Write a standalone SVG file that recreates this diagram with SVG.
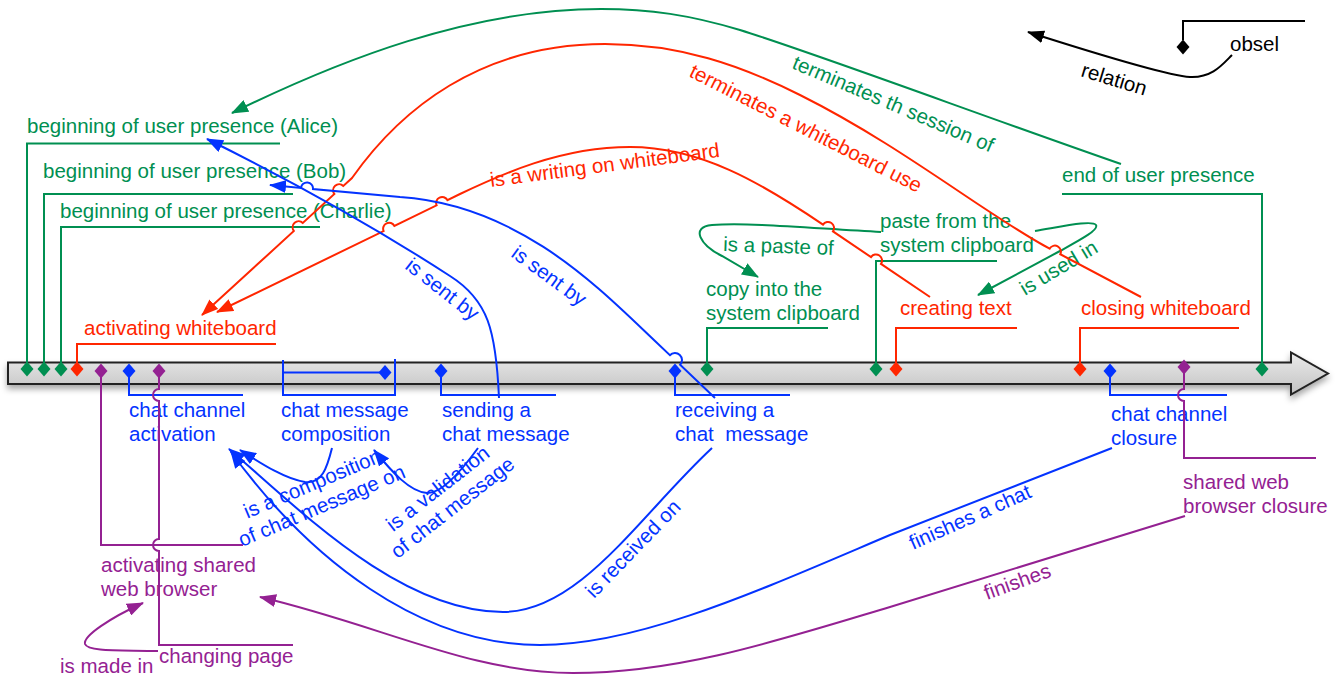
<svg xmlns="http://www.w3.org/2000/svg" xmlns:xlink="http://www.w3.org/1999/xlink" width="1340" height="679" viewBox="0 0 1340 679">
<style>
text{font-family:"Liberation Sans",Arial,Helvetica,sans-serif;font-size:20.5px}
.g,.r,.b,.p,.k{fill:none;stroke-width:2}
.g{stroke:#008F51}.r{stroke:#FF2600}.b{stroke:#0433FF}.p{stroke:#942192}.k{stroke:#000}
.fg{fill:#008F51}.fr{fill:#FF2600}.fb{fill:#0433FF}.fp{fill:#942192}.fk{fill:#000}
</style>
<defs>
<linearGradient id="tg" x1="0" y1="0" x2="0" y2="1"><stop offset="0" stop-color="#ebebeb"/><stop offset="1" stop-color="#c2c2c2"/></linearGradient>
<filter id="sh" x="-5%" y="-50%" width="110%" height="200%"><feDropShadow dx="0" dy="4" stdDeviation="3" flood-color="#000" flood-opacity="0.35"/></filter>
<path id="d" d="M0,-7.5L6.5,0L0,7.5L-6.5,0Z"/>
<marker id="ag" viewBox="0 0 17 13" markerWidth="17" markerHeight="13" refX="16" refY="6.5" orient="auto" markerUnits="userSpaceOnUse"><path d="M0,0L17,6.5L0,13Z" fill="#008F51"/></marker>
<marker id="ar" viewBox="0 0 17 13" markerWidth="17" markerHeight="13" refX="16" refY="6.5" orient="auto" markerUnits="userSpaceOnUse"><path d="M0,0L17,6.5L0,13Z" fill="#FF2600"/></marker>
<marker id="ab" viewBox="0 0 17 13" markerWidth="17" markerHeight="13" refX="16" refY="6.5" orient="auto" markerUnits="userSpaceOnUse"><path d="M0,0L17,6.5L0,13Z" fill="#0433FF"/></marker>
<marker id="ap" viewBox="0 0 17 13" markerWidth="17" markerHeight="13" refX="16" refY="6.5" orient="auto" markerUnits="userSpaceOnUse"><path d="M0,0L17,6.5L0,13Z" fill="#942192"/></marker>
<marker id="ak" viewBox="0 0 17 13" markerWidth="17" markerHeight="13" refX="16" refY="6.5" orient="auto" markerUnits="userSpaceOnUse"><path d="M0,0L17,6.5L0,13Z" fill="#000"/></marker>
</defs>
<rect width="1340" height="679" fill="#fff"/>

<g id="timeline">
<path d="M8,362.5H1291V352.5L1328,373.5L1291,394.5V384H8Z" fill="url(#tg)" stroke="#222" stroke-width="2" filter="url(#sh)"/>
</g>

<g id="n-alice"><path class="g" d="M280,143.5H27V369"/><use href="#d" x="27" y="369" class="fg"/><text class="fg" x="27" y="133">beginning of user presence (Alice)</text></g>
<g id="n-bob"><path class="g" d="M293,194H44V369"/><use href="#d" x="44" y="369" class="fg"/><text class="fg" x="43" y="178">beginning of user presence (Bob)</text></g>
<g id="n-charlie"><path class="g" d="M320,227H61V369"/><use href="#d" x="61" y="369" class="fg"/><text class="fg" x="60" y="218">beginning of user presence (Charlie)</text></g>
<g id="n-activating-whiteboard"><path class="r" d="M276,344H77V369"/><use href="#d" x="77" y="369" class="fr"/><text class="fr" x="84" y="335">activating whiteboard</text></g>
<g id="n-copy"><path class="g" d="M828,328H707V369"/><use href="#d" x="707" y="369" class="fg"/><text class="fg" x="706" y="296">copy into the</text><text class="fg" x="706" y="320">system clipboard</text></g>
<g id="n-paste"><path class="g" d="M997,261H876V369"/><use href="#d" x="876" y="369" class="fg"/><text class="fg" x="880" y="228">paste from the</text><text class="fg" x="880" y="252">system clipboard</text></g>
<g id="n-creating-text"><path class="r" d="M1017,328H896V369"/><use href="#d" x="896" y="369" class="fr"/><text class="fr" x="900" y="315">creating text</text></g>
<g id="n-closing-whiteboard"><path class="r" d="M1239,328H1080V369"/><use href="#d" x="1080" y="369" class="fr"/><text class="fr" x="1081" y="315">closing whiteboard</text></g>
<g id="n-end-presence"><path class="g" d="M1062,194H1262V369"/><use href="#d" x="1262" y="369" class="fg"/><text class="fg" x="1062" y="182">end of user presence</text></g>

<g id="n-chat-activation"><path class="b" d="M129,371V395H243"/><use href="#d" x="129" y="371" class="fb"/><text class="fb" x="129" y="417">chat channel</text><text class="fb" x="129" y="441">activation</text></g>
<g id="n-composition"><path class="b" d="M283,360V395H395V359M283,372.5H385"/><use href="#d" x="385" y="372.5" class="fb"/><text class="fb" x="281" y="417">chat message</text><text class="fb" x="281" y="441">composition</text></g>
<g id="n-sending"><path class="b" d="M441,371V395H556"/><use href="#d" x="441" y="371" class="fb"/><text class="fb" x="442" y="417">sending a</text><text class="fb" x="442" y="441">chat message</text></g>
<g id="n-receiving"><path class="b" d="M675,371V395H790"/><use href="#d" x="675" y="371" class="fb"/><text class="fb" x="675" y="417">receiving a</text><text class="fb" x="675" y="441" xml:space="preserve">chat  message</text></g>
<g id="n-chat-closure"><path class="b" d="M1110,371V395H1227"/><use href="#d" x="1110" y="371" class="fb"/><text class="fb" x="1111" y="421">chat channel</text><text class="fb" x="1111" y="445">closure</text></g>
<g id="n-activating-browser"><path class="p" d="M101,371V545H243"/><use href="#d" x="101" y="371" class="fp"/><text class="fp" x="101" y="572">activating shared</text><text class="fp" x="101" y="596">web browser</text></g>
<g id="n-changing-page"><path class="p" d="M159,371V389A6,6 0 0 0 159,401V539A6,6 0 0 0 159,551V645H293"/><use href="#d" x="159" y="371" class="fp"/><text class="fp" x="159" y="663">changing page</text></g>
<g id="n-browser-closure"><path class="p" d="M1184,367V389A6,6 0 0 0 1184,401V458H1316"/><use href="#d" x="1184" y="367" class="fp"/><text class="fp" x="1183" y="489">shared web</text><text class="fp" x="1183" y="513">browser closure</text></g>

<g id="legend"><path class="k" d="M1305,21H1183V40"/><use href="#d" x="1183" y="47" class="fk"/><text class="fk" x="1230" y="51">obsel</text></g>

<g id="connectors">
<path class="g" marker-end="url(#ag)" d="M1121,164C980,115 820,55 740,30C690,15 650,9 601,9C470,9 340,60 232,113"/>
<text class="fg" transform="translate(791,68) rotate(23)">terminates th session of</text>
<path class="g" marker-end="url(#ag)" d="M881,232C820,229 750,222 712,225C690,227 700,245 722,256L758,277"/>
<text class="fg" transform="translate(723,251) rotate(2)">is a paste of</text>
<path class="g" marker-end="url(#ag)" d="M1035,231C1065,226 1092,220 1096,225C1099,230 1080,240 1060,251L978,295"/>
<text class="fg" transform="translate(1025,296) rotate(-31)">is used in</text>

<path class="r" marker-end="url(#ar)" d="M1141,297L1060.3,254.2A6,6 0 0 0 1049.7,248.6L1043,245C980,210 900,145 800,95C740,65 680,44 605,44C480,44 400,110 352,178L343.3,186A6,6 0 0 0 334.4,194L302.8,223A6,6 0 0 0 293.9,231L202,315"/>
<text class="fr" transform="translate(688,76) rotate(27)">terminates a whiteboard use</text>
<path class="r" marker-end="url(#ar)" d="M930,297L881,263.9A6,6 0 0 0 871,257.1L833,231.4A6,6 0 0 0 823,224.6C760,182 700,147 630,147C560,147 500,175 460,194L447.4,200.1A6,6 0 0 0 436.6,205.3L394.4,225.9A6,6 0 0 0 383.6,231.1L217,312"/>
<text class="fr" transform="translate(491,187) rotate(-7.5)">is a writing on whiteboard</text>

<path class="b" marker-end="url(#ab)" d="M499,398C496,330 488,300 450,276C410,250 330,200 207,139"/>
<text class="fb" transform="translate(404,268) rotate(38)">is sent by</text>
<path class="b" marker-end="url(#ab)" d="M715,398L680.1,364.8A7,7 0 0 0 669.9,355.2L655,341C600,289 520,205 400,197L313,189A6,6 0 0 0 301,187.9L270,185"/>
<text class="fb" transform="translate(510,256) rotate(36)">is sent by</text>
<path class="b" marker-end="url(#ab)" d="M332,448C327,468 322,484 305,482C285,479 262,464 240,450"/>
<text class="fb" text-anchor="middle" transform="translate(315,490) rotate(-23)"><tspan x="0" y="0">is a composition</tspan><tspan x="0" y="24">of chat message on</tspan></text>
<path class="b" marker-end="url(#ab)" d="M478,448C462,470 442,494 427,493C410,492 392,472 374,450"/>
<text class="fb" text-anchor="middle" transform="translate(442,494) rotate(-38)"><tspan x="0" y="0">is a validation</tspan><tspan x="0" y="24">of chat message</tspan></text>
<path class="b" marker-end="url(#ab)" d="M712,448C640,515 580,612 503,612C400,612 300,510 229,449"/>
<text class="fb" transform="translate(594,599) rotate(-46)">is received on</text>
<path class="b" marker-end="url(#ab)" d="M1112,448L890,535C760,590 640,645 540,645C420,645 310,560 231,452"/>
<text class="fb" transform="translate(913,550) rotate(-24)">finishes a chat</text>

<path class="p" marker-end="url(#ap)" d="M1185,516L890,607C780,640 680,673 573,673C470,673 380,625 260,597"/>
<text class="fp" transform="translate(987,600) rotate(-20)">finishes</text>
<path class="p" marker-end="url(#ap)" d="M158,651C120,650 88,652 85,644C83,636 110,618 143,603"/>
<text class="fp" x="60" y="673">is made in</text>

<path class="k" marker-end="url(#ak)" d="M1232,55C1222,65 1212,78 1190,77C1170,76 1100,55 1028,32"/>
<text class="fk" transform="translate(1080,76) rotate(17)">relation</text>
</g>
</svg>
